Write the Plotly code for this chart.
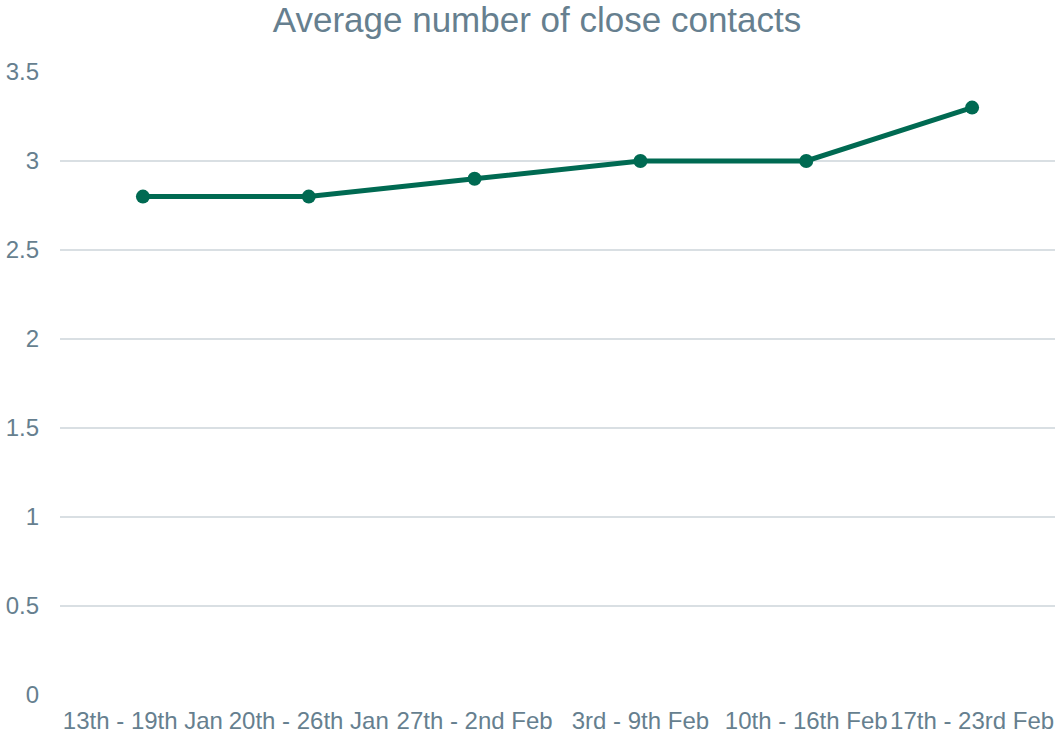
import plotly.graph_objects as go

categories = ["13th - 19th Jan", "20th - 26th Jan", "27th - 2nd Feb", "3rd - 9th Feb", "10th - 16th Feb", "17th - 23rd Feb"]
values = [2.8, 2.8, 2.9, 3.0, 3.0, 3.3]
y_ticks = [0, 0.5, 1, 1.5, 2, 2.5, 3, 3.5]
y_tick_labels = ["0", "0.5", "1", "1.5", "2", "2.5", "3", "3.5"]

text_color = "#667f8f"
fig = go.Figure()
fig.add_trace(go.Scatter(
    x=categories, y=values, mode="lines+markers",
    line=dict(color="#006a52", width=5),
    marker=dict(color="#006a52", size=14),
    showlegend=False,
))
fig.update_layout(
    width=1055, height=734,
    margin=dict(l=60, r=0, t=72, b=39),
    paper_bgcolor="white", plot_bgcolor="white",
    font=dict(family="Liberation Sans, Arial", color=text_color, size=24),
    title=dict(text="Average number of close contacts", x=0.509, xanchor="center",
               y=0.9731, yanchor="middle", font=dict(size=35, color=text_color)),
)
fig.update_xaxes(range=[-0.5, 5.5], showgrid=False, showline=False, zeroline=False,
                 ticks="", ticklabelstandoff=9, tickfont=dict(size=24, color=text_color))
fig.update_yaxes(range=[0, 3.5], tickvals=y_ticks, ticktext=y_tick_labels,
                 showgrid=True, gridcolor="#d9dfe3", gridwidth=2, zeroline=False,
                 showline=False, ticks="", ticklabelstandoff=20,
                 tickfont=dict(size=24, color=text_color))
fig.write_html("out.html", config={"displayModeBar": False},
               post_script="document.body.style.margin='0';document.body.style.overflow='hidden';")
